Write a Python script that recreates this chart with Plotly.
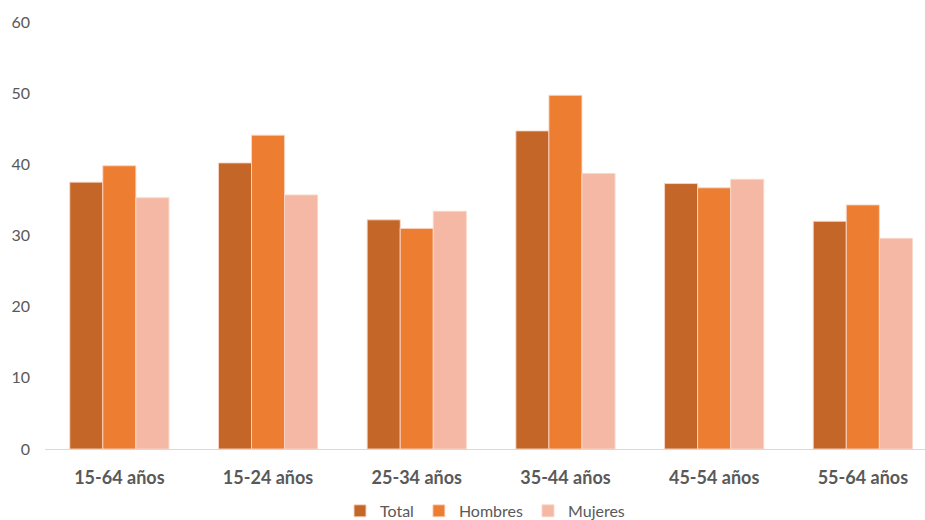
import plotly.graph_objects as go

categories = ["15-64 años", "15-24 años", "25-34 años", "35-44 años", "45-54 años", "55-64 años"]
total = [37.5, 40.2, 32.2, 44.7, 37.3, 32.0]
hombres = [39.8, 44.1, 31.0, 49.7, 36.7, 34.3]
mujeres = [35.3, 35.7, 33.4, 38.7, 37.9, 29.6]
y_ticks = [0, 10, 20, 30, 40, 50, 60]

series = [("Total", total, "#C46627"), ("Hombres", hombres, "#ED7D31"), ("Mujeres", mujeres, "#F4B8A4")]

fig = go.Figure()
for name, vals, color in series:
    fig.add_trace(go.Bar(
        name=name, x=categories, y=vals,
        marker=dict(color=color, line=dict(color="rgba(250,215,200,0.9)", width=1)),
    ))

fig.update_layout(
    width=925, height=520,
    margin=dict(l=45, r=0, t=22, b=71, autoexpand=False),
    paper_bgcolor="white", plot_bgcolor="white",
    barmode="group", bargap=0.333, bargroupgap=0,
    font=dict(family="Lato, Open Sans, sans-serif", color="#595959"),
    showlegend=True,
    legend=dict(orientation="h", x=0.5, xanchor="center", y=-0.145, yanchor="middle",
                font=dict(size=16, color="#595959"), itemwidth=30, tracegroupgap=0),
    xaxis=dict(
        type="category", range=[-0.5, 5.418], automargin=False,
        showgrid=False, showline=True, linecolor="#D9D9D9", linewidth=1,
        ticks="", tickfont=dict(size=18, color="#595959", family="Lato, sans-serif", weight="bold"),
        ticklabelstandoff=12,
    ),
    yaxis=dict(
        range=[0, 60], tickvals=y_ticks, showgrid=False, zeroline=False, showline=False,
        automargin=False,
        ticks="", tickfont=dict(size=16, color="#595959"), ticklabelstandoff=14,
    ),
)

fig.write_html("out.html", config={"displayModeBar": False},
               post_script="document.body.style.margin='0';document.body.style.overflow='hidden';")
